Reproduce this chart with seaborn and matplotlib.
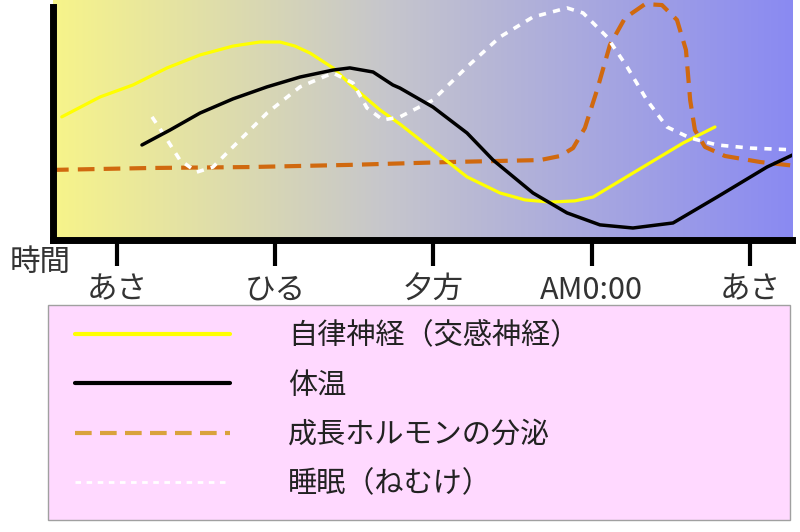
import numpy as np
import matplotlib
matplotlib.use("Agg")
import matplotlib.pyplot as plt
from matplotlib.colors import LinearSegmentedColormap
from matplotlib.lines import Line2D
from matplotlib.patches import Rectangle
import seaborn as sns

# --- données (heure, niveau 0-100) ---
tick_hours = [6, 12, 18, 24, 30]
tick_labels = ["あさ", "ひる", "夕方", "AM0:00", "あさ"]

jiritsu_h = [3.91, 5.36, 6.61, 7.90, 9.15, 10.40, 11.42, 12.18, 12.75, 13.32, 14.19, 14.95,
             15.97, 16.73, 17.98, 19.27, 20.52, 21.47, 22.42, 23.36, 24.05, 25.56, 27.46, 28.67]
jiritsu_v = [51.3, 59.6, 64.6, 71.7, 77.1, 80.8, 82.5, 82.5, 80.8, 77.9, 71.7, 63.8,
             54.2, 48.3, 37.5, 26.3, 19.6, 16.7, 15.8, 16.3, 17.9, 27.9, 40.4, 47.1]

taion_h = [6.95, 8.01, 9.15, 10.40, 11.69, 12.94, 14.19, 14.83, 15.71, 16.46, 16.73, 17.98,
           19.27, 20.26, 21.77, 23.06, 24.31, 25.56, 27.08, 28.75, 30.64, 31.78]
taion_v = [39.6, 45.8, 52.9, 58.8, 63.8, 67.9, 70.8, 71.7, 70.0, 64.6, 63.3, 55.4,
           44.6, 33.3, 19.6, 11.3, 6.3, 5.0, 7.1, 17.9, 30.4, 36.3]

hormone_h = [3.54, 7.25, 11.04, 14.83, 18.63, 22.04, 22.80, 23.29, 23.74, 24.20, 24.69, 25.26,
             26.02, 26.66, 27.23, 27.57, 27.73, 27.91, 28.29, 29.05, 30.38, 31.78]
hormone_v = [29.2, 30.0, 30.4, 31.3, 32.5, 33.3, 35.0, 38.3, 46.7, 62.5, 81.3, 92.5,
             98.3, 97.9, 91.7, 79.2, 58.3, 45.8, 38.8, 35.0, 32.5, 30.8]

suimin_h = [7.33, 7.74, 8.39, 9.03, 9.64, 10.40, 11.69, 12.94, 14.19, 14.95, 15.48, 16.09,
            16.73, 17.98, 19.27, 20.52, 21.77, 23.06, 23.67, 24.58, 25.34, 26.09, 26.85,
            27.73, 28.75, 30.00, 31.78]
suimin_v = [51.3, 44.6, 33.3, 28.3, 30.4, 38.8, 52.9, 63.8, 69.6, 65.4, 55.0, 50.0,
            51.3, 58.3, 72.1, 84.6, 92.9, 96.7, 94.6, 84.6, 72.1, 58.3, 47.1,
            42.5, 39.6, 38.3, 37.5]

legend_labels = ["自律神経（交感神経）", "体温", "成長ホルモンの分泌", "睡眠（ねむけ）"]

# --- style ---
sns.set_theme(style="white")
plt.rcParams["font.family"] = ["Noto Sans CJK JP", "DejaVu Sans"]

fig = plt.figure(figsize=(8, 5.32), dpi=100)
ax = fig.add_axes([0.066, 1 - 240 / 532, 0.924, 240 / 532])

xmin, xmax = 3.57, 31.59
ymin, ymax = 0, 100

# fond dégradé jaune -> bleu
cmap = LinearSegmentedColormap.from_list(
    "fond", [(0.0, "#F7F48A"), (0.45, "#C6C6CC"), (1.0, "#8A8AF2")])
ax.imshow(np.linspace(0, 1, 256).reshape(1, -1), cmap=cmap, aspect="auto",
          extent=[xmin, xmax, ymin, ymax], zorder=0)

sns.lineplot(x=hormone_h, y=hormone_v, ax=ax, color="#D0690F", linewidth=3,
             linestyle=(0, (4, 2.2)), sort=False, zorder=3)
sns.lineplot(x=jiritsu_h, y=jiritsu_v, ax=ax, color="#FFFF00", linewidth=2.3,
             sort=False, zorder=4)
sns.lineplot(x=suimin_h, y=suimin_v, ax=ax, color="white", linewidth=2.6,
             linestyle=(0, (2, 2)), sort=False, zorder=5)
sns.lineplot(x=taion_h, y=taion_v, ax=ax, color="black", linewidth=2.5,
             sort=False, zorder=6)

ax.set_xlim(xmin, xmax)
ax.set_ylim(ymin, ymax)
ax.set_xticks(tick_hours)
ax.set_xticklabels(tick_labels, fontsize=22, color="#333333")
ax.set_yticks([])
ax.set_xlabel("")
ax.set_ylabel("")
ax.tick_params(axis="x", direction="out", length=19, width=3, color="black", pad=6,
               bottom=True)

for s in ["top", "right"]:
    ax.spines[s].set_visible(False)
for s in ["left", "bottom"]:
    ax.spines[s].set_linewidth(5)
    ax.spines[s].set_color("black")
    ax.spines[s].set_zorder(10)
ax.spines["left"].set_bounds(0, 97)

fig.text(40 / 800, 1 - 262 / 532, "時間", fontsize=22, color="#333333",
         ha="center", va="center")

# --- légende : cadre rose + entrées ---
fig.patches.append(Rectangle((48 / 800, 1 - 520 / 532), 742 / 800, 215 / 532,
                             transform=fig.transFigure, facecolor="#FFD9FF",
                             edgecolor="#A0A0A0", linewidth=1, zorder=0))
handles = [
    Line2D([], [], color="#FFFF00", linewidth=3),
    Line2D([], [], color="black", linewidth=3),
    Line2D([], [], color="#D9A23C", linewidth=3, linestyle=(0, (4, 2))),
    Line2D([], [], color="white", linewidth=2, linestyle=(0, (2, 2))),
]
leg = fig.legend(handles, legend_labels, loc="upper left",
                 bbox_to_anchor=(75 / 800, 1 - 321 / 532),
                 fontsize=21, handlelength=5.3, handletextpad=2.0,
                 labelspacing=0.67, borderpad=0, borderaxespad=0,
                 frameon=False)
for t in leg.get_texts():
    t.set_color("#222222")

fig.savefig("out.png", dpi=100)
